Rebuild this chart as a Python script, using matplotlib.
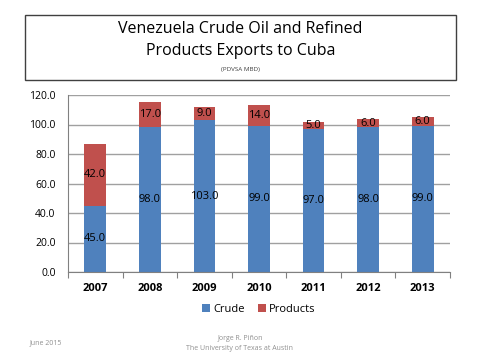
import matplotlib.pyplot as plt
from matplotlib.patches import Rectangle

years = ['2007', '2008', '2009', '2010', '2011', '2012', '2013']
crude = [45.0, 98.0, 103.0, 99.0, 97.0, 98.0, 99.0]
products = [42.0, 17.0, 9.0, 14.0, 5.0, 6.0, 6.0]
yticks = [0, 20, 40, 60, 80, 100, 120]

plt.rcParams['font.family'] = ['Open Sans', 'DejaVu Sans']

fig = plt.figure(figsize=(4.81, 3.61), dpi=100)

# title box
fig.patches.append(Rectangle((25 / 481, 1 - 80 / 361), 431 / 481, 65 / 361,
                             transform=fig.transFigure, fill=False,
                             edgecolor='#404040', linewidth=1.0))
fig.text(0.5, 1 - 29 / 361, 'Venezuela Crude Oil and Refined', ha='center',
         va='center', fontsize=11.5)
fig.text(0.5, 1 - 51 / 361, 'Products Exports to Cuba', ha='center',
         va='center', fontsize=11.5)
fig.text(0.5, 1 - 69 / 361, '(PDVSA MBD)', ha='center', va='center',
         fontsize=4.5, color='#404040')

ax = fig.add_axes([68 / 481, 1 - 272 / 361, 382 / 481, 177 / 361])
x = range(len(years))
c = ax.bar(x, crude, width=0.4, color='#4F81BD', label='Crude', zorder=2)
p = ax.bar(x, products, width=0.4, bottom=crude, color='#C0504D',
           label='Products', zorder=2)
for i in x:
    ax.text(i, crude[i] / 2, '%.1f' % crude[i], ha='center', va='center',
            fontsize=8)
    ax.text(i, crude[i] + products[i] / 2, '%.1f' % products[i], ha='center',
            va='center', fontsize=8)

ax.set_xlim(-0.5, len(years) - 0.5)
ax.set_ylim(0, 120)
ax.set_yticks(yticks)
ax.set_yticklabels(['%.1f' % v for v in yticks], fontsize=7.5)
ax.yaxis.grid(True, color='#a0a0a0', linewidth=1.0, zorder=0)
ax.tick_params(axis='y', length=0, pad=9)
ax.set_xticks([i + 0.5 for i in range(-1, len(years))], minor=False)
ax.set_xticklabels([])
ax.set_xticks(list(x), minor=True)
ax.set_xticklabels(years, minor=True, fontsize=8, fontweight='bold')
ax.tick_params(axis='x', which='major', length=4, color='#808080',
               direction='out')
ax.tick_params(axis='x', which='minor', length=0, pad=8)
for s in ['top', 'right']:
    ax.spines[s].set_visible(False)
ax.spines['left'].set_color('#808080')
ax.spines['bottom'].set_color('#808080')

ax.legend(loc='upper center', bbox_to_anchor=(0.5, -0.125), ncol=2,
          frameon=False, fontsize=8, handlelength=0.7, handleheight=0.7,
          columnspacing=1.2, handletextpad=0.3)

fig.text(30 / 481, 1 - 343 / 361, 'June 2015', fontsize=5, color='#909090',
         va='center')
fig.text(240 / 481, 1 - 338 / 361, 'Jorge R. Piñon', fontsize=5,
         color='#909090', ha='center', va='center')
fig.text(240 / 481, 1 - 349 / 361, 'The University of Texas at Austin',
         fontsize=5, color='#909090', ha='center', va='center')

fig.savefig('out.png', dpi=100)
